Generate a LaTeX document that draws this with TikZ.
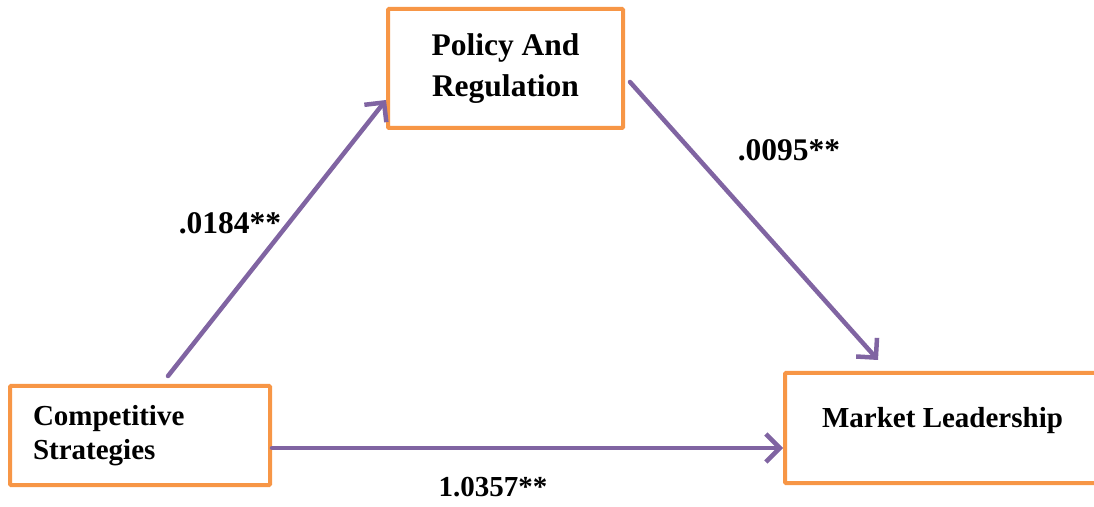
\documentclass[tikz,border=0pt]{standalone}
\usepackage{fontspec}
\setmainfont{Liberation Serif}
\usepackage{tikz}
\usetikzlibrary{arrows.meta,positioning,calc}
\definecolor{BoxOrange}{HTML}{F79646}
\definecolor{LinkPurple}{HTML}{8064A2}

\begin{document}
\begin{tikzpicture}[x=1pt,y=1pt,
    varbox/.style={rectangle,rounded corners=1pt,draw=BoxOrange,line width=4pt,fill=white,align=center,font=\fontsize{29}{41}\selectfont\bfseries},
    link/.style={-{Straight Barb[length=14pt,width=28pt,line width=4.5pt]},line width=4.5pt,draw=LinkPurple,line cap=round},
    coef/.style={font=\fontsize{31.5}{34}\selectfont\bfseries}
]
\useasboundingbox (0,0) rectangle (1094,506);
\begin{scope}
\clip (0,0) rectangle (1094,506);
\node[varbox,minimum width=235,minimum height=119,font=\fontsize{31.5}{41}\selectfont\bfseries] (pr) at (505.5,437.5) {Policy And\\Regulation};
\node[varbox,minimum width=260,minimum height=99,align=left,text width=214,inner xsep=23,font=\fontsize{29}{34}\selectfont\bfseries] (cs) at (140,70.5) {Competitive\\Strategies};
\node[varbox,minimum width=315,minimum height=110] (ml) at (942.5,78) {\raisebox{22pt}{Market Leadership}};
\end{scope}
\draw[link] ([shift={(28,8)}]cs.north) -- ([yshift=-31.5]pr.west);
\draw[link] ([shift={(5,-13.5)}]pr.east) -- ([shift={(-64.5,11)}]ml.north);
\draw[link] ([yshift=-12.5]cs.east) -- ([yshift=-20]ml.west);
\node[coef] (a) at (230,283) {.0184**};
\node[coef] (b) at (789,356) {.0095**};
\node[coef,font=\fontsize{29}{34}\selectfont\bfseries] (c) at (493,19) {1.0357**};
\end{tikzpicture}
\end{document}
